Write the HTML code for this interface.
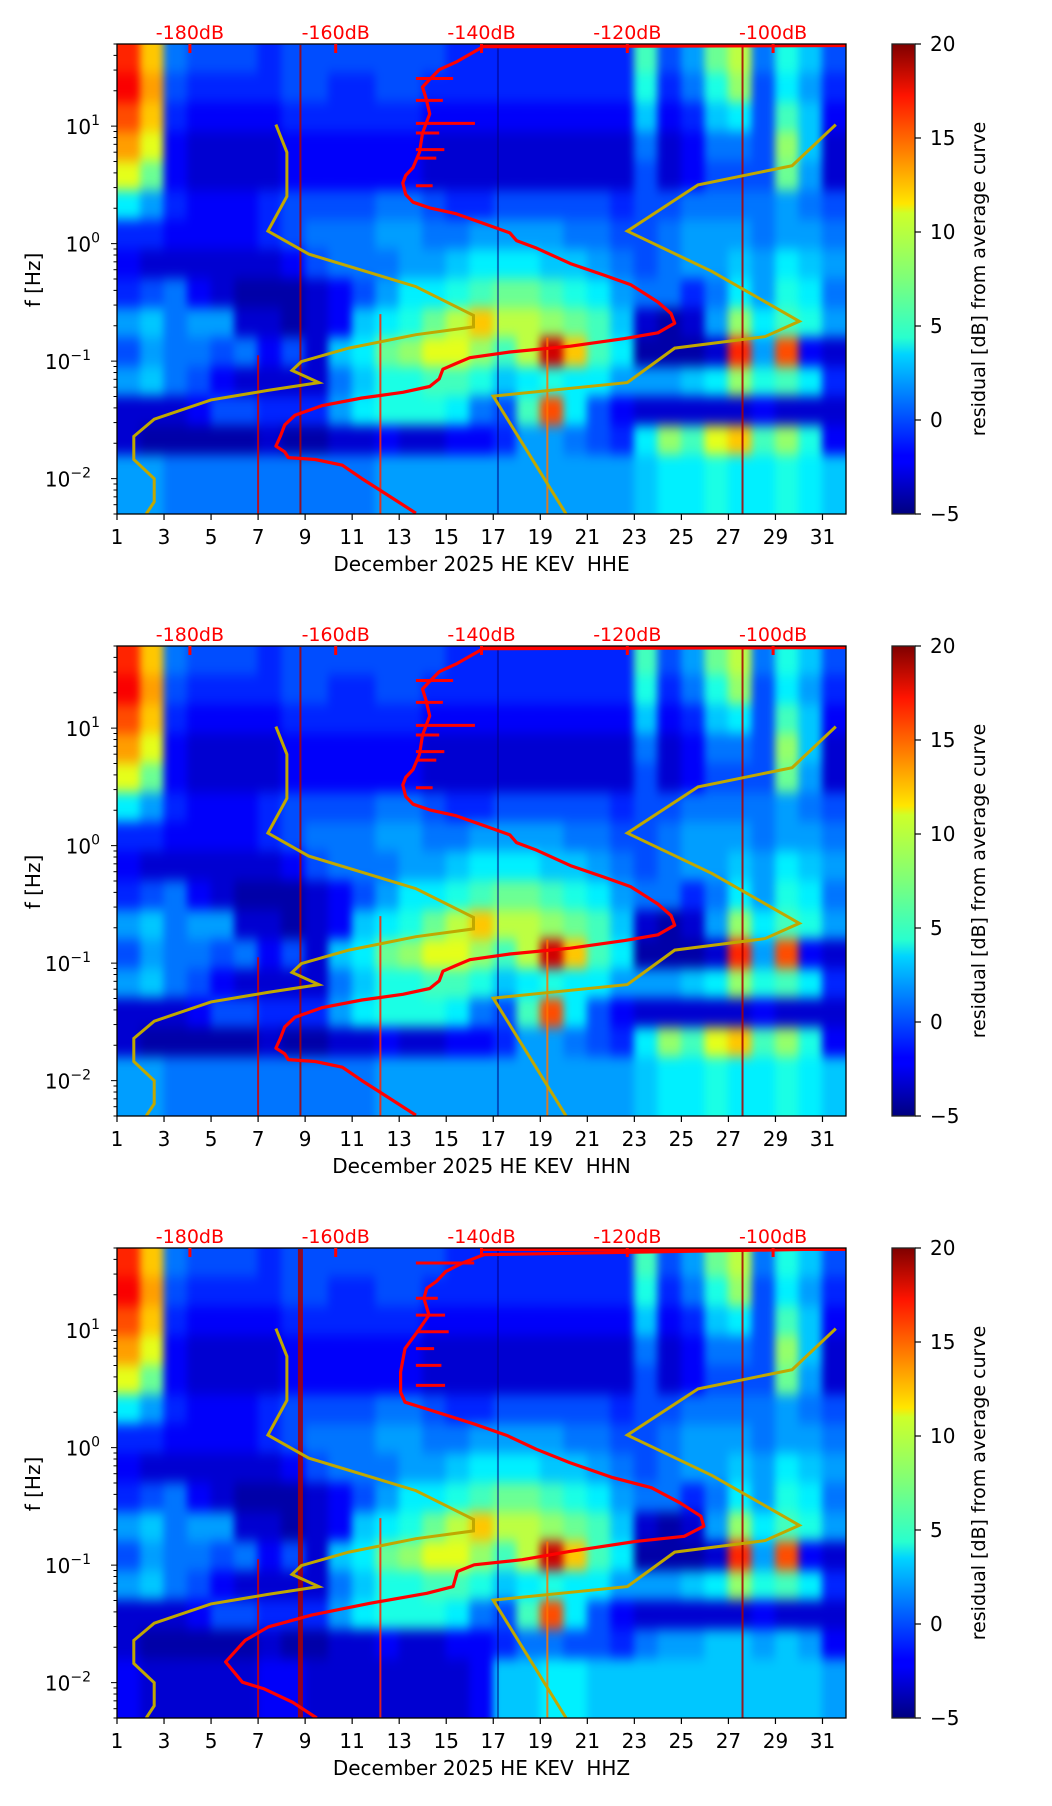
<!DOCTYPE html>
<html><head><meta charset="utf-8"><style>
html,body{margin:0;padding:0;background:#fff;}
svg{display:block;font-family:"DejaVu Sans","Liberation Sans",sans-serif;}
</style></head><body>
<svg id="fig" xmlns="http://www.w3.org/2000/svg" width="1052" height="1806" viewBox="0 0 1052 1806">
<defs>
<filter id="blur" x="-5%" y="-5%" width="110%" height="110%" color-interpolation-filters="sRGB"><feGaussianBlur stdDeviation="4 6"/></filter>
<linearGradient id="jetgrad" x1="0" y1="1" x2="0" y2="0">
<stop offset="0" stop-color="#00007f"/><stop offset="0.11" stop-color="#0000ff"/><stop offset="0.125" stop-color="#0000ff"/><stop offset="0.34" stop-color="#00d4ff"/><stop offset="0.375" stop-color="#29ffce"/><stop offset="0.5" stop-color="#7dff7a"/><stop offset="0.64" stop-color="#ceff29"/><stop offset="0.66" stop-color="#ffe600"/><stop offset="0.89" stop-color="#ff1400"/><stop offset="1" stop-color="#7f0000"/>
</linearGradient>
</defs>
</svg>
<script>
// ---- data ----
const dayTicks = [1,3,5,7,9,11,13,15,17,19,21,23,25,27,29,31];
const dbTicks = [-180,-160,-140,-120,-100];
const cbTicks = [-5,0,5,10,15,20];
const channels = ["HHE","HHN","HHZ"];
// heatmap rows (top = 50 Hz, each row = 1/4 decade), columns = days 1..31, residual dB
const heatRow0 = [16,12,1,0,0,0,-1,0,0,0,0,0,0,0,-1,-1,-1,-1,-1,-1,-1,-1,6,0,2,7,9,1,5,3,0];
const heatRow1 = [17,13,0,-1,-1,-1,-1,0,0,-1,-1,0,0,-1,-1,-1,-1,-1,-1,-1,-1,-1,5,-1,1,5,8,0,4,2,-1];
const heatRow2 = [15,12,-1,-2,-2,-2,-2,-1,-1,-1,-1,-1,-1,-2,-2,-2,-2,-2,-2,-2,-2,-2,3,-2,-1,3,4,0,6,3,-2];
const heatRow3 = [13,10,-2,-3,-3,-3,-3,-2,-2,-2,-2,-2,-2,-3,-3,-3,-3,-3,-3,-3,-3,-3,1,-3,-2,1,1,0,8,3,-3];
const heatRow4 = [10,7,-2,-3,-3,-3,-3,-2,-2,-2,-2,-2,-2,-3,-3,-3,-3,-3,-3,-3,-3,-3,0,-3,-2,0,0,0,7,2,-3];
const heatRow5 = [4,2,-1,-2,-2,-2,-1,0,0,0,0,1,1,0,-1,-1,0,0,0,0,0,-1,0,0,1,1,1,1,2,1,0];
const heatRow6 = [-1,-1,-2,-2,-2,-2,-1,0,1,1,1,2,2,1,1,2,2,2,2,1,1,0,0,1,2,2,2,1,2,2,1];
const heatRow7 = [-2,-3,-3,-3,-3,-3,-3,-2,0,1,1,1,2,2,3,4,4,4,3,3,2,1,0,1,2,2,3,2,4,3,2];
const heatRow8 = [-1,0,1,-2,-3,-4,-4,-4,-3,-2,0,2,4,4,5,6,7,7,6,5,4,2,1,1,-1,1,4,2,5,4,1];
const heatRow9 = [2,3,1,2,2,-3,-3,-4,-3,-2,3,4,5,7,9,12,9,9,8,7,6,3,-3,-4,-3,2,8,4,6,5,2];
const heatRow10 = [0,2,1,1,0,1,-2,0,-3,3,4,7,8,10,10,8,6,9,18,12,6,4,-4,-4,-4,-3,16,2,15,-2,-3];
const heatRow11 = [2,3,1,0,-2,-3,-3,-3,-3,1,3,5,5,6,6,5,3,4,5,4,4,2,2,2,3,4,8,5,6,4,-1];
const heatRow12 = [-3,-3,-3,-2,0,0,-1,-1,-1,2,4,5,5,5,4,1,0,6,15,4,0,-2,-3,-3,-3,-3,-3,-2,-3,-3,-3];
const heatRow13 = [-3,-4,-4,-4,-4,-4,-3,-4,-4,-3,-3,-2,-3,-3,-2,-2,-1,2,2,1,0,-1,4,8,6,10,12,6,8,5,-2];
const heatRow14 = [2,2,1,1,1,1,1,1,1,1,1,2,2,2,2,2,2,2,2,2,2,2,3,4,4,5,4,4,5,4,3];
const heatRow15 = [2,2,1,1,1,1,1,1,1,1,1,2,2,2,2,2,2,2,2,2,2,2,3,4,4,5,4,4,5,4,3];
const heatRow13z = [-3,-4,-4,-4,-4,-4,-3,-4,-4,-3,-3,-2,-3,-3,-2,-2,-1,1,1,0,0,-1,1,2,2,3,3,2,3,2,-2];
const heatRow14z = [-2,-3,-3,-3,-3,-3,-2,-2,-3,-3,-3,-3,-3,-3,-3,-2,3,3,4,4,3,3,3,3,3,3,3,3,3,3,2];
const heatRow15z = [-2,-3,-3,-3,-3,-3,-2,-2,-3,-3,-3,-3,-3,-3,-3,-2,3,3,4,4,3,3,3,3,3,3,3,3,3,3,2];
// vertical streaks (day, top log10 f, value)
const streakDay = [7.0, 8.8, 12.2, 19.3, 27.6, 17.2];
const streakTop = [-0.95, 1.69, -0.6, -0.8, 1.69, 1.69];
const streakVal = [18, 19, 16, 14, 19, -5];
// red curve HHE/HHN: log10 f and dB
const redLf1 = [1.686,1.676,1.611,1.545,1.480,1.398,1.333,1.235,1.104,0.941,0.777,0.647,0.581,0.516,0.418,0.353,0.304,0.255,0.173,0.091,0.026,-0.040,-0.170,-0.268,-0.350,-0.497,-0.595,-0.677,-0.759,-0.808,-0.873,-0.922,-0.971,-1.020,-1.069,-1.151,-1.216,-1.265,-1.314,-1.379,-1.461,-1.543,-1.641,-1.723,-1.772,-1.821,-1.837,-1.886,-2.000,-2.131,-2.294];
const redDb1 = [-90.2,-139.8,-141.6,-143.5,-145.8,-147.1,-148.1,-147.6,-147.1,-148.1,-148.5,-149.4,-150.4,-150.8,-150.4,-149.4,-147.1,-143.5,-139.8,-136.1,-135.2,-132.4,-127.8,-123.2,-119.5,-115.8,-114.0,-113.5,-115.8,-120.4,-127.8,-136.1,-141.6,-143.5,-145.3,-145.8,-147.1,-150.8,-156.4,-161.9,-165.6,-167.0,-167.6,-168.2,-167.0,-166.5,-162.8,-159.1,-156.4,-153.1,-149.0];
const spikeLf1 = [1.405,1.219,1.023,0.941,0.800,0.728,0.493];
const spikeDb1 = [-143.9,-145.3,-140.9,-145.8,-145.1,-146.2,-146.7];
// red curve HHZ
const redLf3 = [1.693,1.642,1.571,1.499,1.414,1.357,1.271,1.128,0.986,0.843,0.643,0.472,0.387,0.329,0.201,0.101,-0.013,-0.127,-0.255,-0.341,-0.469,-0.584,-0.669,-0.755,-0.797,-0.883,-0.954,-0.997,-1.054,-1.183,-1.240,-1.326,-1.425,-1.525,-1.639,-1.824,-1.996,-2.053,-2.167,-2.301];
const redDb3 = [-90,-139.7,-142.6,-144.9,-146.2,-147.5,-147.9,-147.2,-148.8,-150.5,-151.1,-151.1,-150.5,-147.5,-141.0,-136.4,-132.5,-127.9,-122.0,-116.7,-112.8,-109.9,-109.5,-112.2,-118.7,-127.9,-134.4,-141.0,-143.3,-143.9,-147.5,-155.4,-163.3,-169.2,-172.4,-175.1,-172.8,-169.8,-165.9,-162.6];
const spikeLf3 = [1.571,1.271,1.128,0.986,0.843,0.700,0.530];
const spikeDb3 = [-141.0,-146.0,-145.0,-144.5,-146.5,-145.5,-145.0];
// yellow reference curves
const yelLoLf = [1.013,0.777,0.402,0.107,-0.089,-0.366,-0.611,-0.709,-0.775,-0.889,-1.004,-1.079,-1.183,-1.249,-1.330,-1.494,-1.641,-1.837,-2.000,-2.197,-2.301];
const yelLoDb = [-168.2,-166.7,-166.7,-169.3,-163.7,-149.0,-141.1,-141.1,-149.0,-158.2,-164.7,-166.0,-162.3,-169.3,-177.1,-184.9,-187.7,-187.7,-184.9,-184.9,-186.0];
const yelHiLf = [1.013,0.663,0.500,0.107,-0.236,-0.661,-0.791,-0.889,-1.183,-1.298,-2.301];
const yelHiDb = [-91.4,-97.4,-110.3,-120.0,-108.4,-96.4,-101.1,-113.5,-120.0,-138.4,-128.4];

// ---- drawing ----
const NS = "http://www.w3.org/2000/svg";
const svg = document.getElementById("fig");
const L = 117, W = 729, H = 470, CBX = 892, CBW = 23;
const tops = [44, 646, 1248];
const LFTOP = Math.log10(50), LFBOT = Math.log10(0.005);
function mk(tag, attrs, parent) { const e = document.createElementNS(NS, tag); for (const k in attrs) e.setAttribute(k, attrs[k]); (parent || svg).appendChild(e); return e; }
function jet(v) {
  const t = Math.max(0, Math.min(1, (v + 5) / 25));
  const c = x => Math.round(255 * Math.max(0, Math.min(1, x)));
  return "rgb(" + c(1.5 - Math.abs(4 * t - 3)) + "," + c(1.5 - Math.abs(4 * t - 2)) + "," + c(1.5 - Math.abs(4 * t - 1)) + ")";
}
const rowsA = [heatRow0,heatRow1,heatRow2,heatRow3,heatRow4,heatRow5,heatRow6,heatRow7,heatRow8,heatRow9,heatRow10,heatRow11,heatRow12,heatRow13,heatRow14,heatRow15];
const rowsZ = [heatRow0,heatRow1,heatRow2,heatRow3,heatRow4,heatRow5,heatRow6,heatRow7,heatRow8,heatRow9,heatRow10,heatRow11,heatRow12,heatRow13z,heatRow14z,heatRow15z];

tops.forEach((T, p) => {
  const xDay = d => L + (d - 1) / 31 * W;
  const xDb = v => L + (v + 190) / 100 * W;
  const yLf = lf => T + (LFTOP - lf) / (LFTOP - LFBOT) * H;
  const panel = mk("g", {});
  
  
  const cid = "clip" + p;
  const cp = mk("clipPath", { id: cid }, panel);
  mk("rect", { x: L, y: T, width: W, height: H }, cp);
  const plot = mk("g", { "clip-path": "url(#" + cid + ")" }, panel);
  
  
  mk("rect", { x: L, y: T, width: W, height: H, fill: "#00008f" }, plot);
  const heat = mk("g", { filter: "url(#blur)" }, plot);
  const rows = p === 2 ? rowsZ : rowsA;
  rows.forEach((row, r) => {
    for (let c = -1; c <= 31; c++) {
      const v = row[Math.max(0, Math.min(30, c))];
      const lf0 = LFTOP - r * 0.25, lf1 = lf0 - 0.25;
      const y0 = r === 0 ? T - 30 : yLf(lf0);
      const y1 = r === rows.length - 1 ? T + H + 30 : yLf(lf1);
      const cell = mk("rect", { x: xDay(c + 1) - 0.5, y: y0 - 0.5, width: W / 31 + 1, height: y1 - y0 + 1, fill: jet(v) }, heat);
      
      
    }
  });
  streakDay.forEach((d, i) => {
    const s = mk("line", { x1: xDay(d), x2: xDay(d), y1: yLf(streakTop[i]), y2: T + H, stroke: jet(streakVal[i]), "stroke-width": (p === 2 && i === 1) ? 5 : 2, opacity: i === 5 ? 0.5 : 0.85 }, plot);
    
    
  });
  // yellow curves
  [[yelLoLf, yelLoDb], [yelHiLf, yelHiDb]].forEach(([lfs, dbs], k) => {
    const pts = lfs.map((lf, i) => xDb(dbs[i]).toFixed(1) + "," + yLf(lf).toFixed(1)).join(" ");
    const pl = mk("polyline", { points: pts, fill: "none", stroke: "#c0a800", "stroke-width": 3, "stroke-linejoin": "miter" }, plot);
    
    
  });
  // red curve
  const rl = p === 2 ? redLf3 : redLf1, rd = p === 2 ? redDb3 : redDb1;
  const sl = p === 2 ? spikeLf3 : spikeLf1, sd = p === 2 ? spikeDb3 : spikeDb1;
  const rpts = rl.map((lf, i) => xDb(rd[i]).toFixed(1) + "," + yLf(lf).toFixed(1)).join(" ");
  const red = mk("polyline", { points: rpts, fill: "none", stroke: "#ff0000", "stroke-width": 3.2, "stroke-linejoin": "round" }, plot);
  
  
  mk("line", { x1: xDb(-139.8), x2: xDb(-90), y1: yLf(1.686), y2: yLf(1.686), stroke: "#ff0000", "stroke-width": 3 }, plot);
  sl.forEach((lf, i) => {
    const s = mk("line", { x1: xDb(-149), x2: xDb(sd[i]), y1: yLf(lf), y2: yLf(lf), stroke: "#ff0000", "stroke-width": 3 }, plot);
    
    
  });
  // frame
  const fr = mk("rect", { x: L, y: T, width: W, height: H, fill: "none", stroke: "#000", "stroke-width": 1.3 }, panel);
  
  
  // x ticks
  dayTicks.forEach(d => {
    mk("line", { x1: xDay(d), x2: xDay(d), y1: T + H, y2: T + H + 6, stroke: "#000", "stroke-width": 1.2 }, panel);
    const t = mk("text", { x: xDay(d), y: T + H + 30, "text-anchor": "middle", "font-size": 20, fill: "#000" }, panel);
    t.textContent = d;
    
    
  });
  const xl = mk("text", { x: L + W / 2, y: T + H + 57, "text-anchor": "middle", "font-size": 20, fill: "#000" }, panel);
  xl.textContent = "December 2025 HE KEV\u00a0\u00a0" + channels[p];
  
  
  // top dB ticks
  dbTicks.forEach(v => {
    mk("line", { x1: xDb(v), x2: xDb(v), y1: T, y2: T + 9, stroke: "#ff0000", "stroke-width": 3 }, panel);
    const t = mk("text", { x: xDb(v), y: T - 5, "text-anchor": "middle", "font-size": 19, fill: "#ff0000" }, panel);
    t.textContent = v + "dB";
    
    
  });
  // y ticks
  for (let e = -3; e <= 1; e++) {
    for (let m = 1; m <= 9; m++) {
      const lf = e + Math.log10(m);
      if (lf > LFTOP + 1e-6 || lf < LFBOT - 1e-6) continue;
      mk("line", { x1: L, x2: L - (m === 1 ? 6 : 3.5), y1: yLf(lf), y2: yLf(lf), stroke: "#000", "stroke-width": 1 }, panel);
    }
  }
  [1, 0, -1, -2].forEach(e => {
    const t = mk("text", { x: L - 27, y: yLf(e) + 8, "text-anchor": "end", "font-size": 20, fill: "#000" }, panel);
    t.textContent = "10";
    const s = mk("tspan", { dy: -9, "font-size": 14 }, t);
    s.textContent = e < 0 ? "\u2212" + (-e) : String(e);
    t.setAttribute("x", L - 10 - (e < 0 ? 16 : 7));
    
    
  });
  const yl = mk("text", { x: 0, y: 0, transform: "translate(40," + (T + 236) + ") rotate(-90)", "text-anchor": "middle", "font-size": 20, fill: "#000" }, panel);
  yl.textContent = "f [Hz]";
  
  
  // colorbar
  const cb = mk("rect", { x: CBX, y: T, width: CBW, height: H, fill: "url(#jetgrad)", stroke: "#222", "stroke-width": 1.3 }, panel);
  
  
  cbTicks.forEach(v => {
    const y = T + H - (v + 5) / 25 * H;
    mk("line", { x1: CBX + CBW, x2: CBX + CBW + 6, y1: y, y2: y, stroke: "#000", "stroke-width": 1.2 }, panel);
    const t = mk("text", { x: CBX + CBW + 15, y: y + 7, "font-size": 20, fill: "#000" }, panel);
    t.textContent = v < 0 ? "\u2212" + (-v) : String(v);
    
    
  });
  const cl = mk("text", { x: 0, y: 0, transform: "translate(985," + (T + H / 2) + ") rotate(-90)", "text-anchor": "middle", "font-size": 19, fill: "#000" }, panel);
  cl.textContent = "residual [dB] from average curve";
  
  
});
</script>
</body></html>
